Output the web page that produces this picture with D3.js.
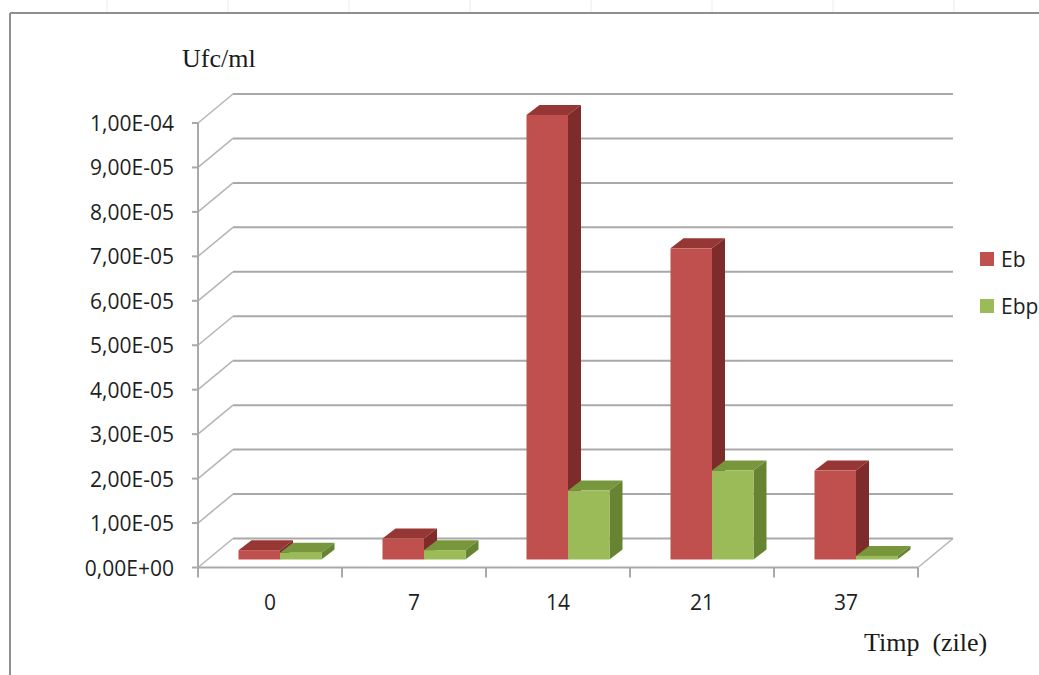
<!DOCTYPE html>
<html>
<head>
<meta charset="utf-8">
<script src="https://cdn.jsdelivr.net/npm/d3@7"></script>
<style>
  html, body { margin: 0; padding: 0; background: #ffffff; }
  svg { display: block; }
  .tick-label { font-family: "Open Sans", sans-serif; font-size: 21px; fill: #1e1e1e; }
  .axis-title { font-family: "Liberation Serif", "Times New Roman", serif; font-size: 26px; fill: #1a1a1a; white-space: pre; }
</style>
</head>
<body>
<svg id="chart" width="1039" height="675"></svg>
<script>
// Sampling days and measured counts (Ufc/ml) for both series
const categories = ["0", "7", "14", "21", "37"];
const seriesNames = ["Eb", "Ebp"];
const ebValues  = [2.1e-6, 4.7e-6, 1.0e-4, 7.0e-5, 2.0e-5];
const ebpValues = [1.5e-6, 2.1e-6, 1.55e-5, 2.0e-5, 8e-7];
const yTickValues = [0, 1e-5, 2e-5, 3e-5, 4e-5, 5e-5, 6e-5, 7e-5, 8e-5, 9e-5, 1e-4];
const yTickLabels = ["0,00E+00", "1,00E-05", "2,00E-05", "3,00E-05", "4,00E-05",
                     "5,00E-05", "6,00E-05", "7,00E-05", "8,00E-05", "9,00E-05", "1,00E-04"];

const seriesValues = [ebValues, ebpValues];
const palette = [
  { front: "#c0504d", top: "#973735", side: "#7d2c2a" },
  { front: "#9bbb59", top: "#78973d", side: "#668431" }
];

const svg = d3.select("#chart");

// Plot geometry: front plane and the receding depth of the 3D box
const frontLeft = 198, frontRight = 918;
const yBottom = 567.5, yTop = 123;
const depth = { dx: 35, dy: -29 };
const barFront = { dx: 10, dy: -8 };   // front face of bars inside the box
const barBack  = { dx: 23, dy: -18 };  // back face of bars

const y = d3.scaleLinear().domain([0, 1e-4]).range([yBottom, yTop]);
const x = d3.scaleBand().domain(categories).range([frontLeft, frontRight]).padding(0);
const xs = d3.scaleBand().domain(seriesNames).range([0, x.bandwidth()])
  .paddingInner(0).paddingOuter(0.735);

const gridColor = "#a9a9a9";

// Outer chart frame
svg.append("line").attr("x1", 10).attr("y1", 13).attr("x2", 1039).attr("y2", 13)
  .attr("stroke", "#8f8f8f").attr("stroke-width", 2);
svg.append("line").attr("x1", 10).attr("y1", 13).attr("x2", 10).attr("y2", 675)
  .attr("stroke", "#8f8f8f").attr("stroke-width", 2);
// faint sheet cell lines above the frame
const sheetCols = [107, 228, 349, 470, 591, 712, 833, 954];
svg.selectAll("line.sheet").data(sheetCols).join("line").attr("class", "sheet")
  .attr("x1", d => d).attr("x2", d => d).attr("y1", 0).attr("y2", 12)
  .attr("stroke", "#ececec").attr("stroke-width", 1);

// Back wall gridlines and their diagonals to the front axis
const grid = svg.append("g");
grid.selectAll("line.back").data(yTickValues).join("line").attr("class", "back")
  .attr("x1", frontLeft + depth.dx).attr("x2", frontRight + depth.dx)
  .attr("y1", d => y(d) + depth.dy).attr("y2", d => y(d) + depth.dy)
  .attr("stroke", gridColor).attr("stroke-width", 2);
grid.selectAll("line.diag").data(yTickValues).join("line").attr("class", "diag")
  .attr("x1", frontLeft).attr("y1", d => y(d))
  .attr("x2", frontLeft + depth.dx).attr("y2", d => y(d) + depth.dy)
  .attr("stroke", "#b5b5b5").attr("stroke-width", 1.5);
// floor right edge
grid.append("line")
  .attr("x1", frontRight).attr("y1", y(0))
  .attr("x2", frontRight + depth.dx).attr("y2", y(0) + depth.dy)
  .attr("stroke", "#b5b5b5").attr("stroke-width", 1.5);

// Front value axis
const axisG = svg.append("g");
axisG.append("line").attr("x1", frontLeft).attr("x2", frontLeft)
  .attr("y1", y(1e-4)).attr("y2", y(0))
  .attr("stroke", gridColor).attr("stroke-width", 2);
axisG.selectAll("line.ytick").data(yTickValues).join("line").attr("class", "ytick")
  .attr("x1", frontLeft - 6).attr("x2", frontLeft)
  .attr("y1", d => y(d)).attr("y2", d => y(d))
  .attr("stroke", gridColor).attr("stroke-width", 2);
axisG.selectAll("text.ylab").data(yTickValues).join("text")
  .attr("class", "tick-label ylab")
  .attr("x", 174).attr("y", d => y(d) + 8)
  .attr("text-anchor", "end")
  .text((d, i) => yTickLabels[i]);

// Front category axis
axisG.append("line").attr("x1", frontLeft).attr("x2", frontRight)
  .attr("y1", y(0)).attr("y2", y(0))
  .attr("stroke", gridColor).attr("stroke-width", 2);
const xTickPos = categories.map(c => x(c)).concat([frontRight]);
axisG.selectAll("line.xtick").data(xTickPos).join("line").attr("class", "xtick")
  .attr("x1", d => d).attr("x2", d => d)
  .attr("y1", y(0)).attr("y2", y(0) + 10)
  .attr("stroke", gridColor).attr("stroke-width", 2);
axisG.selectAll("text.xlab").data(categories).join("text")
  .attr("class", "tick-label xlab")
  .attr("x", d => x(d) + x.bandwidth() / 2).attr("y", 610)
  .attr("text-anchor", "middle")
  .text(d => d);

// 3D bars, drawn left to right so each bar overlaps the side of its neighbour
const bars = [];
categories.forEach((c, ci) => {
  seriesNames.forEach((s, si) => {
    bars.push({ cat: c, series: s, si, value: seriesValues[si][ci] });
  });
});

const barG = svg.append("g");
bars.forEach(b => {
  const x0 = x(b.cat) + xs(b.series) + barFront.dx;
  const x1 = x0 + xs.bandwidth();
  const yb = y(0) + barFront.dy;
  const yt = y(b.value) + barFront.dy;
  const ddx = barBack.dx - barFront.dx, ddy = barBack.dy - barFront.dy;
  const col = palette[b.si];
  const g = barG.append("g");
  // top face
  g.append("path")
    .attr("d", `M${x0},${yt} L${x0 + ddx},${yt + ddy} L${x1 + ddx},${yt + ddy} L${x1},${yt} Z`)
    .attr("fill", col.top);
  // right side face
  g.append("path")
    .attr("d", `M${x1},${yt} L${x1 + ddx},${yt + ddy} L${x1 + ddx},${yb + ddy} L${x1},${yb} Z`)
    .attr("fill", col.side);
  // front face
  g.append("rect")
    .attr("x", x0).attr("y", yt).attr("width", x1 - x0).attr("height", yb - yt)
    .attr("fill", col.front);
});

// Axis titles
svg.append("text").attr("class", "axis-title").attr("x", 182).attr("y", 67).text("Ufc/ml");
svg.append("text").attr("class", "axis-title").attr("x", 864).attr("y", 651).text("Timp  (zile)");

// Legend
const legend = svg.append("g");
const legendY = [252, 299];
seriesNames.forEach((s, i) => {
  legend.append("rect").attr("x", 980).attr("y", legendY[i])
    .attr("width", 14).attr("height", 14).attr("fill", palette[i].front);
  legend.append("text").attr("class", "tick-label")
    .attr("x", 1001).attr("y", legendY[i] + 15).text(s);
});
</script>
</body>
</html>
